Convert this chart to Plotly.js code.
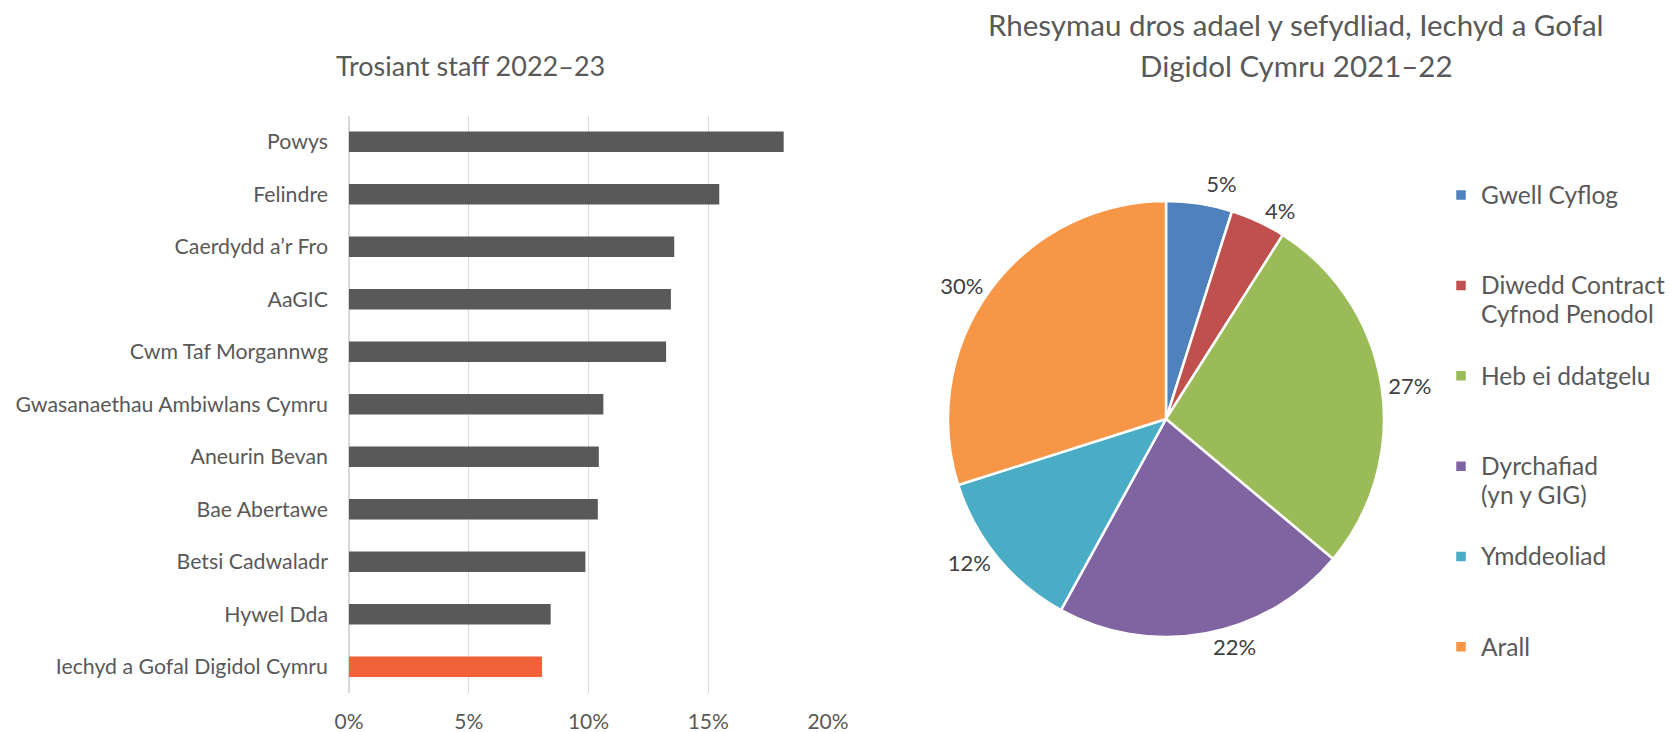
<!DOCTYPE html>
<html>
<head>
<meta charset="utf-8">
<script src="https://cdn.plot.ly/plotly-3.0.1.min.js"></script>
<style>
  html, body { margin: 0; padding: 0; background: #ffffff; }
  #chart { width: 1671px; height: 732px; }
  .textline { stroke-opacity: 0 !important; }
</style>
</head>
<body>
<div id="chart"></div>
<script>
// ---- Data ----
var barCategories = [
  "Powys",
  "Felindre",
  "Caerdydd a\u2019r Fro",
  "AaGIC",
  "Cwm Taf Morgannwg",
  "Gwasanaethau Ambiwlans Cymru",
  "Aneurin Bevan",
  "Bae Abertawe",
  "Betsi Cadwaladr",
  "Hywel Dda",
  "Iechyd a Gofal Digidol Cymru"
];
var barValues = [0.1815, 0.1546, 0.1358, 0.1344, 0.1324, 0.1062, 0.1043, 0.1039, 0.0987, 0.0842, 0.0806];
var barHighlight = "Iechyd a Gofal Digidol Cymru";
var barTickVals = [0, 0.05, 0.10, 0.15, 0.20];

var pieLabels = [
  "Gwell Cyflog",
  "Diwedd Contract<br>Cyfnod Penodol",
  "Heb ei ddatgelu",
  "Dyrchafiad<br>(yn y GIG)",
  "Ymddeoliad",
  "Arall"
];
var pieValues = [4.9, 4.1, 27.1, 21.9, 12.1, 29.9];
var pieColors = ["#4F81BD", "#C0504D", "#9BBB59", "#8064A2", "#4BACC6", "#F79646"];

var barTitle = "Trosiant staff 2022\u201323";
var pieTitleLines = ["Rhesymau dros adael y sefydliad, Iechyd a Gofal", "Digidol Cymru 2021\u201322"];

// ---- Helpers (pixel -> paper) ----
var W = 1671, H = 732;
function px(x) { return x / W; }
function py(y) { return (H - y) / H; }

var FONT = "Lato, 'Open Sans', sans-serif";
var GREY = "#595959";

// legend labels: larger glyphs, uniform 3-line item height
function legendLabel(l) {
  var parts = l.split("<br>");
  var out = parts.map(function (p) { return '<span style="font-size:24.5px">' + p + '</span>'; });
  while (out.length < 3) out.push("&nbsp;");
  return out.join("<br>");
}
var pieLegendLabels = pieLabels.map(legendLabel);

var barColors = barCategories.map(function (c) { return c === barHighlight ? "#F2623A" : "#595959"; });

var traces = [
  {
    type: "bar",
    orientation: "h",
    x: barValues,
    y: barCategories,
    marker: { color: barColors },
    xaxis: "x",
    yaxis: "y",
    hoverinfo: "x+y",
    showlegend: false
  },
  {
    type: "pie",
    labels: pieLegendLabels,
    values: pieValues,
    sort: false,
    direction: "clockwise",
    rotation: 0,
    marker: { colors: pieColors, line: { color: "#ffffff", width: 2.5 } },
    textinfo: "percent",
    texttemplate: "%{percent:.0%}",
    textposition: "outside",
    outsidetextfont: { family: FONT, size: 22, color: "#404040" },
    domain: { x: [px(948), px(1384)], y: [py(637), py(201)] },
    automargin: false,
    showlegend: true
  }
];

var layout = {
  width: W,
  height: H,
  margin: { l: 0, r: 0, t: 0, b: 0 },
  paper_bgcolor: "#ffffff",
  plot_bgcolor: "#ffffff",
  font: { family: FONT, color: GREY, size: 21 },
  bargap: 0.613,
  xaxis: {
    domain: [px(349), px(828)],
    range: [0, 0.2],
    tickvals: barTickVals,
    tickformat: ".0%",
    showgrid: true,
    gridcolor: "#D9D9D9",
    gridwidth: 1.3,
    zeroline: true,
    zerolinecolor: "#D9D9D9",
    zerolinewidth: 1.3,
    showline: false,
    ticks: "",
    ticklabelstandoff: 14,
    tickfont: { family: FONT, size: 21, color: GREY },
    fixedrange: true
  },
  yaxis: {
    domain: [py(693), py(115.5)],
    type: "category",
    categoryorder: "array",
    categoryarray: barCategories,
    autorange: "reversed",
    showgrid: false,
    zeroline: false,
    showline: false,
    ticks: "",
    ticklabelstandoff: 20,
    tickfont: { family: FONT, size: 21.3, color: GREY },
    fixedrange: true
  },
  legend: {
    x: px(1441),
    y: py(174),
    xanchor: "left",
    yanchor: "top",
    valign: "top",
    font: { family: FONT, size: 22.4, color: GREY },
    bgcolor: "rgba(0,0,0,0)"
  },
  annotations: [
    {
      text: barTitle,
      x: px(470), y: py(65.5), xref: "paper", yref: "paper",
      xanchor: "center", yanchor: "middle", showarrow: false,
      font: { family: FONT, size: 27, color: GREY }
    },
    {
      text: pieTitleLines[0],
      x: px(1296), y: py(25), xref: "paper", yref: "paper",
      xanchor: "center", yanchor: "middle", showarrow: false,
      font: { family: FONT, size: 29.5, color: GREY }
    },
    {
      text: pieTitleLines[1],
      x: px(1296), y: py(65), xref: "paper", yref: "paper",
      xanchor: "center", yanchor: "middle", showarrow: false,
      font: { family: FONT, size: 29.5, color: GREY }
    }
  ]
};

Plotly.newPlot("chart", traces, layout, { displayModeBar: false, staticPlot: true });
</script>
</body>
</html>
